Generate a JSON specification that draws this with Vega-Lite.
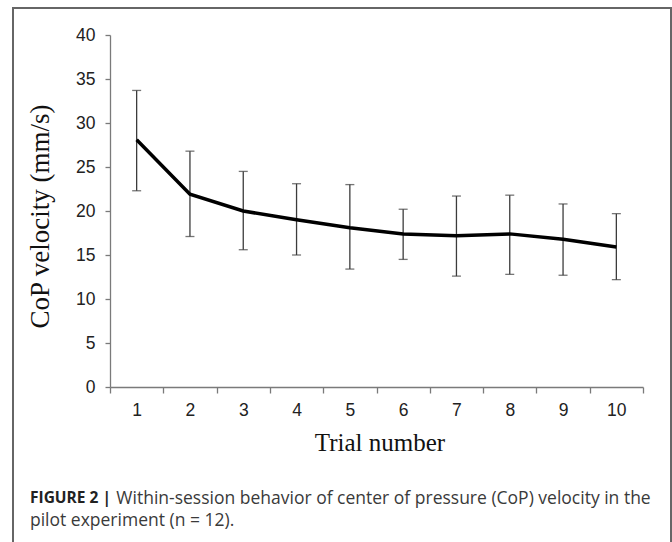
{
  "$schema": "https://vega.github.io/schema/vega-lite/v6.json",
  "width": 658,
  "height": 536,
  "autosize": {"type": "none"},
  "padding": {"left": 13, "top": 8, "right": 1, "bottom": -2},
  "background": "white",
  "config": {"view": {"stroke": "#666666", "strokeWidth": 2}},
  "data": {
    "values": [
      {"trial": 1, "mean": 28.1, "lo": 22.3, "hi": 33.7},
      {"trial": 2, "mean": 21.9, "lo": 17.1, "hi": 26.8},
      {"trial": 3, "mean": 20.0, "lo": 15.6, "hi": 24.5},
      {"trial": 4, "mean": 19.0, "lo": 15.0, "hi": 23.1},
      {"trial": 5, "mean": 18.1, "lo": 13.4, "hi": 23.0},
      {"trial": 6, "mean": 17.4, "lo": 14.5, "hi": 20.2},
      {"trial": 7, "mean": 17.2, "lo": 12.6, "hi": 21.7},
      {"trial": 8, "mean": 17.4, "lo": 12.8, "hi": 21.8},
      {"trial": 9, "mean": 16.8, "lo": 12.7, "hi": 20.8},
      {"trial": 10, "mean": 15.9, "lo": 12.2, "hi": 19.7}
    ]
  },
  "title": {
    "text": "FIGURE 2 |",
    "subtitle": ["\u200b\u00a0\u00a0\u00a0\u00a0\u00a0\u00a0\u00a0\u00a0\u00a0\u00a0\u00a0\u00a0\u00a0\u00a0\u00a0\u00a0\u00a0\u00a0\u00a0Within-session behavior of center of pressure (CoP) velocity in the", "pilot experiment (n = 12)."],
    "orient": "bottom",
    "anchor": "start",
    "frame": "group",
    "offset": -53,
    "dx": 17,
    "font": "Open Sans",
    "fontSize": 15.5,
    "fontWeight": "bold",
    "color": "#222222",
    "subtitleFont": "Open Sans",
    "subtitleFontSize": 17.5,
    "subtitleColor": "#3a3a3a",
    "subtitlePadding": -16.8,
    "subtitleLineHeight": 22
  },
  "encoding": {
    "x": {
      "field": "trial",
      "type": "ordinal",
      "scale": {"type": "band", "paddingInner": 0, "paddingOuter": 0, "range": [97, 630]},
      "axis": {
        "title": "Trial number",
        "titleFont": "Liberation Serif",
        "titleFontSize": 25,
        "titleFontWeight": "normal",
        "titleColor": "#111111",
        "titleX": 366.5,
        "titleY": 63,
        "titleBaseline": "alphabetic",
        "labelAngle": 0,
        "labelFont": "Liberation Sans",
        "labelFontSize": 17.5,
        "labelColor": "#222222",
        "labelPadding": 8,
        "tickBand": "extent",
        "tickSize": 6,
        "tickColor": "#7a7a7a",
        "tickWidth": 1.3,
        "domain": true,
        "domainColor": "#7a7a7a",
        "domainWidth": 1.3,
        "grid": false,
        "offset": -157
      }
    }
  },
  "layer": [
    {
      "mark": {"type": "rule", "stroke": "#3c3c3c", "strokeWidth": 1.3},
      "encoding": {
        "y": {
          "field": "lo",
          "type": "quantitative",
          "scale": {"domain": [0, 40], "range": [379, 27], "nice": false, "zero": false},
          "axis": {
            "title": "CoP velocity (mm/s)",
            "titleFont": "Liberation Serif",
            "titleFontSize": 27,
            "titleFontWeight": "normal",
            "titleColor": "#111111",
            "titleX": -62,
            "titleY": 208,
            "titleBaseline": "alphabetic",
            "values": [0, 5, 10, 15, 20, 25, 30, 35, 40],
            "labelFont": "Liberation Sans",
            "labelFontSize": 17.5,
            "labelColor": "#222222",
            "labelPadding": 10,
            "tickSize": 5,
            "tickColor": "#7a7a7a",
            "tickWidth": 1.3,
            "domain": true,
            "domainColor": "#7a7a7a",
            "domainWidth": 1.3,
            "grid": false,
            "offset": -97
          }
        },
        "y2": {"field": "hi"}
      }
    },
    {
      "mark": {"type": "tick", "color": "#3c3c3c", "thickness": 1.3, "size": 9},
      "encoding": {"y": {"field": "lo", "type": "quantitative"}}
    },
    {
      "mark": {"type": "tick", "color": "#3c3c3c", "thickness": 1.3, "size": 9},
      "encoding": {"y": {"field": "hi", "type": "quantitative"}}
    },
    {
      "mark": {"type": "line", "color": "#000000", "strokeWidth": 3.5},
      "encoding": {"y": {"field": "mean", "type": "quantitative"}}
    }
  ]
}
